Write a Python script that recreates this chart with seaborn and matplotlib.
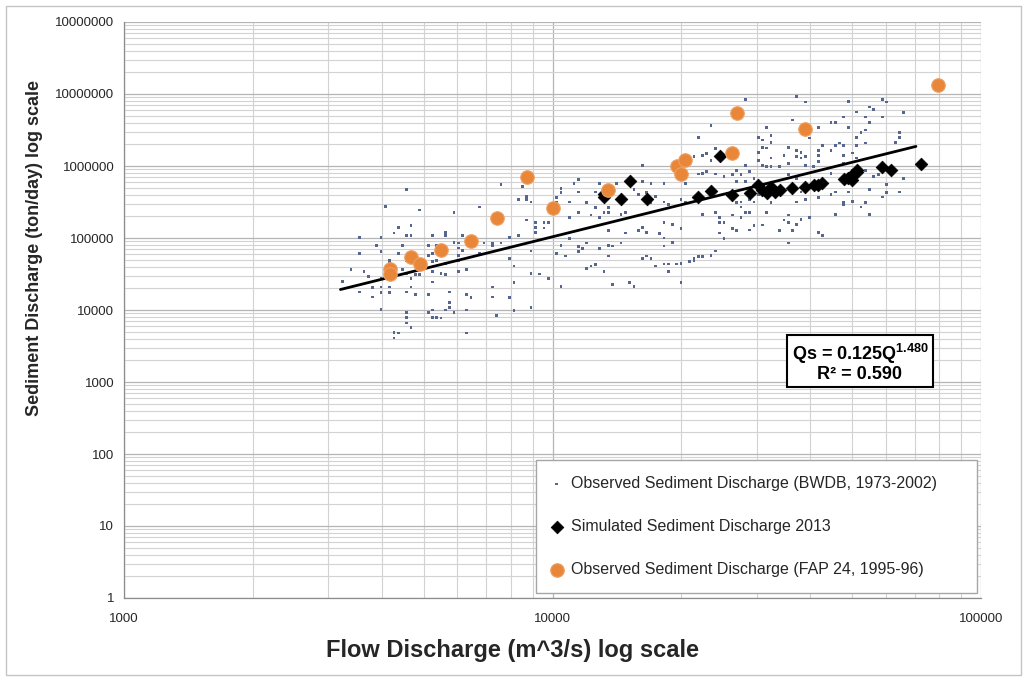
import numpy as np
import pandas as pd
import matplotlib
matplotlib.use("Agg")
import matplotlib.pyplot as plt
from matplotlib.ticker import FixedLocator, FixedFormatter, LogLocator, NullFormatter
from matplotlib.patches import Rectangle
import seaborn as sns

# ---------------------------------------------------------------------------
# Data: (log10 flow discharge [m^3/s], log10 sediment discharge [ton/day])
# ---------------------------------------------------------------------------
bwdb_log = [
    (3.88, 5.74), (3.93, 5.72), (3.66, 5.67), (3.94, 5.58), (3.94, 5.54), (3.92, 5.53),
    (3.61, 5.44), (3.83, 5.43), (3.69, 5.39),
    (4.37, 6.56), (4.34, 6.40), (4.33, 6.13), (4.35, 6.15), (4.36, 6.17), (4.37, 6.08),
    (4.38, 6.24), (4.21, 6.01), (4.34, 5.89), (4.35, 5.90), (4.36, 5.92), (4.38, 5.89),
    (4.40, 5.85), (4.06, 5.81), (4.05, 5.76), (4.11, 5.76), (4.15, 5.76), (4.21, 5.79),
    (4.23, 5.76), (4.26, 5.76), (4.31, 5.76), (4.02, 5.69), (4.02, 5.63), (4.06, 5.64),
    (4.10, 5.64), (4.13, 5.61), (4.19, 5.67), (4.22, 5.63), (4.20, 5.60), (4.24, 5.58),
    (4.01, 5.56), (4.01, 5.50), (4.04, 5.50), (4.08, 5.49), (3.95, 5.50), (4.23, 5.49),
    (4.26, 5.50), (4.27, 5.46), (4.30, 5.53), (4.31, 5.50), (4.13, 5.42), (4.10, 5.42),
    (4.45, 6.92), (4.57, 6.97), (4.59, 6.89), (4.69, 6.90), (4.77, 6.92), (4.78, 6.89),
    (4.74, 6.82), (4.71, 6.75), (4.75, 6.78), (4.68, 6.68), (4.73, 6.68), (4.82, 6.74),
    (4.77, 6.68), (4.56, 6.64), (4.65, 6.60), (4.66, 6.60), (4.74, 6.60), (4.50, 6.54),
    (4.62, 6.54), (4.69, 6.53), (4.73, 6.50), (4.72, 6.46), (4.81, 6.46), (4.71, 6.40),
    (4.51, 6.42), (4.48, 6.40), (4.81, 6.40), (4.49, 6.36), (4.51, 6.33), (4.60, 6.39),
    (4.63, 6.29), (4.67, 6.32), (4.68, 6.29), (4.49, 6.26), (4.50, 6.25), (4.55, 6.26),
    (4.66, 6.28), (4.71, 6.29), (4.73, 6.32), (4.80, 6.33), (4.57, 6.22), (4.58, 6.19),
    (4.62, 6.22), (4.65, 6.22), (4.48, 6.19), (4.54, 6.15), (4.57, 6.13), (4.58, 6.11),
    (4.59, 6.13), (4.62, 6.15), (4.68, 6.15), (4.70, 6.18), (4.71, 6.11), (4.48, 6.08),
    (4.51, 6.11), (4.49, 6.01), (4.50, 5.99), (4.51, 5.99), (4.53, 5.99), (4.55, 6.03),
    (4.59, 6.01), (4.61, 5.99), (4.62, 6.06), (4.68, 6.04), (4.45, 6.01), (4.43, 5.94),
    (4.46, 5.92), (4.42, 5.88), (4.44, 5.88), (4.47, 5.83), (4.45, 5.78), (4.43, 5.78),
    (4.55, 5.88), (4.57, 5.83), (4.65, 5.90), (4.73, 5.94), (4.75, 5.85), (4.76, 5.88),
    (4.82, 5.83), (4.78, 5.74), (4.81, 5.64), (4.78, 5.63), (4.74, 5.67), (4.69, 5.64),
    (4.66, 5.64), (4.65, 5.60), (4.58, 5.64), (4.54, 5.67), (4.48, 5.60), (4.46, 5.53),
    (4.44, 5.50), (4.47, 5.50), (4.51, 5.49), (4.57, 5.50), (4.59, 5.53), (4.62, 5.56),
    (4.68, 5.50), (4.68, 5.46), (4.70, 5.51), (4.72, 5.43), (4.73, 5.49), (4.77, 5.57),
    (4.44, 5.43), (4.43, 5.49),
    (3.77, 5.35), (3.94, 5.25), (3.64, 5.15), (3.67, 5.17), (3.63, 5.07), (3.66, 5.03),
    (3.67, 5.04), (3.60, 5.01), (3.55, 5.01), (3.72, 5.04), (3.75, 5.08), (3.75, 5.04),
    (3.79, 5.04), (3.77, 4.94), (3.78, 4.93), (3.84, 4.93), (3.86, 4.93), (3.86, 4.90),
    (3.88, 4.93), (3.90, 5.01), (3.92, 5.04), (3.59, 4.90), (3.65, 4.90), (3.71, 4.90),
    (3.73, 4.90), (3.78, 4.86), (3.79, 4.83), (3.55, 4.79), (3.60, 4.81), (3.64, 4.79),
    (3.71, 4.76), (3.72, 4.79), (3.73, 4.81), (3.78, 4.76), (3.83, 4.79), (3.90, 4.72),
    (3.62, 4.69), (3.62, 4.67), (3.66, 4.69), (3.72, 4.67), (3.73, 4.69), (3.75, 4.65),
    (3.78, 4.69), (3.91, 4.61), (3.53, 4.56), (3.56, 4.54), (3.57, 4.46), (3.63, 4.56),
    (3.65, 4.56), (3.66, 4.51), (3.72, 4.53), (3.74, 4.51), (3.75, 4.49), (3.78, 4.54),
    (3.80, 4.56), (3.60, 4.44), (3.62, 4.42), (3.67, 4.44), (3.68, 4.49), (3.69, 4.49),
    (3.51, 4.40), (3.58, 4.31), (3.60, 4.32), (3.62, 4.32), (3.67, 4.32), (3.55, 4.25),
    (3.60, 4.24), (3.62, 4.24), (3.66, 4.25), (3.72, 4.39), (3.86, 4.32), (3.91, 4.38),
    (3.58, 4.18), (3.68, 4.21), (3.71, 4.21), (3.76, 4.25), (3.80, 4.21), (3.81, 4.17),
    (3.86, 4.18), (3.90, 4.17), (3.76, 4.10), (3.76, 4.04), (3.60, 4.01), (3.75, 4.00),
    (3.72, 4.00), (3.77, 3.97), (3.80, 4.00), (3.91, 3.99), (3.66, 3.96), (3.71, 3.96),
    (3.72, 3.90), (3.73, 3.90), (3.74, 3.89), (3.87, 3.92), (3.66, 3.90), (3.66, 3.82),
    (3.67, 3.76), (3.63, 3.69), (3.64, 3.68), (3.63, 3.61), (3.80, 3.68),
    (4.01, 5.35), (4.04, 5.29), (4.06, 5.35), (4.09, 5.32), (4.11, 5.29), (4.12, 5.35),
    (4.13, 5.35), (4.16, 5.33), (4.17, 5.35), (3.96, 5.21), (3.96, 5.15), (3.98, 5.21),
    (3.99, 5.22), (3.96, 5.08), (3.96, 5.07), (3.98, 5.14), (4.13, 5.10), (4.17, 5.07),
    (4.20, 5.10), (4.21, 5.15), (4.22, 5.08), (4.26, 5.22), (4.28, 5.19), (4.30, 5.13),
    (4.25, 5.06), (4.26, 5.00), (4.28, 4.94), (4.04, 4.99), (4.02, 4.90), (4.08, 4.93),
    (4.06, 4.88), (4.07, 4.85), (4.06, 4.81), (4.11, 4.85), (4.13, 4.90), (4.14, 4.89),
    (4.16, 4.93), (4.26, 4.89), (3.95, 4.82), (4.01, 4.78), (4.03, 4.75), (4.13, 4.75),
    (4.21, 4.72), (4.22, 4.75), (4.23, 4.72), (4.24, 4.61), (4.26, 4.64), (4.27, 4.64),
    (4.29, 4.64), (4.30, 4.65), (4.32, 4.67), (4.33, 4.69), (4.33, 4.72), (4.34, 4.74),
    (4.35, 4.74), (4.37, 4.76), (4.38, 4.82), (4.35, 5.33), (4.38, 5.35), (4.39, 5.28),
    (4.39, 5.22), (4.40, 5.22), (4.39, 5.07), (4.40, 4.99), (4.08, 4.58), (4.09, 4.61),
    (4.10, 4.63), (4.12, 4.53), (4.27, 4.53), (3.95, 4.51), (3.97, 4.50), (3.99, 4.44),
    (4.02, 4.33), (4.14, 4.35), (4.18, 4.38), (4.19, 4.33), (4.30, 4.38), (3.95, 4.04),
    (4.42, 5.32), (4.44, 5.29), (4.45, 5.35), (4.46, 5.35), (4.50, 5.35), (4.55, 5.32),
    (4.54, 5.25), (4.58, 5.26), (4.60, 5.28), (4.66, 5.33), (4.74, 5.33), (4.47, 5.17),
    (4.49, 5.18), (4.55, 5.21), (4.57, 5.19), (4.42, 5.13), (4.43, 5.10), (4.46, 5.11),
    (4.53, 5.10), (4.56, 5.10), (4.62, 5.08), (4.63, 5.04), (4.55, 4.93),
]

simulated_log = [
    (4.12, 5.61), (4.12, 5.57), (4.16, 5.54), (4.18, 5.79), (4.22, 5.54), (4.34, 5.57),
    (4.37, 5.65), (4.39, 6.14), (4.42, 5.60), (4.46, 5.63), (4.48, 5.74), (4.49, 5.67),
    (4.50, 5.63), (4.51, 5.71), (4.52, 5.64), (4.53, 5.67), (4.56, 5.69), (4.59, 5.71),
    (4.61, 5.74), (4.62, 5.74), (4.63, 5.76), (4.68, 5.82), (4.69, 5.83), (4.70, 5.88),
    (4.70, 5.81), (4.71, 5.92), (4.71, 5.94), (4.77, 5.99), (4.79, 5.94), (4.86, 6.03),
]

fap_log = [
    (3.62, 4.57), (3.62, 4.50), (3.67, 4.74), (3.69, 4.64), (3.74, 4.83), (3.81, 4.96),
    (3.87, 5.28), (3.94, 5.85), (4.00, 5.42), (4.13, 5.67), (4.29, 6.00), (4.31, 6.08),
    (4.30, 5.89), (4.42, 6.18), (4.43, 6.74), (4.59, 6.51), (4.90, 7.13),
]

# Power-law fit Qs = a * Q^b, drawn over the observed flow range
fit_a = 0.125
fit_b = 1.480
fit_r2 = 0.590
fit_q_range = (3200, 70500)

x_ticks = [1000, 10000, 100000]
x_tick_labels = ["1000", "10000", "100000"]
y_ticks = [1, 10, 100, 1000, 10000, 100000, 1000000, 10000000, 100000000]
y_tick_labels = ["1", "10", "100", "1000", "10000", "100000", "1000000",
                 "10000000", "10000000"]

series_labels = [
    "Observed Sediment Discharge (BWDB, 1973-2002)",
    "Simulated Sediment Discharge 2013",
    "Observed Sediment Discharge (FAP 24, 1995-96)",
]


def to_frame(points):
    arr = np.array(points, dtype=float)
    return pd.DataFrame({"Q": 10 ** arr[:, 0], "Qs": 10 ** arr[:, 1]})


df_bwdb = to_frame(bwdb_log)
df_sim = to_frame(simulated_log)
df_fap = to_frame(fap_log)

q_fit = np.geomspace(fit_q_range[0], fit_q_range[1], 60)
df_fit = pd.DataFrame({"Q": q_fit, "Qs": fit_a * q_fit ** fit_b})

# ---------------------------------------------------------------------------
# Styling
# ---------------------------------------------------------------------------
sns.set_theme(style="white")
plt.rcParams["font.family"] = ["Liberation Sans", "DejaVu Sans"]
plt.rcParams["mathtext.fontset"] = "custom"
plt.rcParams["mathtext.rm"] = "Liberation Sans:bold"
plt.rcParams["mathtext.it"] = "Liberation Sans:bold"
plt.rcParams["mathtext.bf"] = "Liberation Sans:bold"

fig = plt.figure(figsize=(10.28, 6.77), dpi=100)
ax = fig.add_axes([124 / 1028, 1 - 598 / 677, 857 / 1028, 576 / 677])

ax.set_xscale("log")
ax.set_yscale("log")
ax.set_xlim(1000, 100000)
ax.set_ylim(1, 100000000)

ax.set_axisbelow(True)
ax.xaxis.set_minor_locator(LogLocator(base=10, subs=np.arange(2, 10)))
ax.yaxis.set_minor_locator(LogLocator(base=10, subs=np.arange(2, 10), numticks=20))
ax.xaxis.set_minor_formatter(NullFormatter())
ax.yaxis.set_minor_formatter(NullFormatter())
ax.grid(which="major", color="#b5b5b5", linewidth=0.9)
ax.grid(which="minor", color="#d2d2d2", linewidth=0.8)

sns.scatterplot(data=df_bwdb, x="Q", y="Qs", ax=ax, marker="s", s=4,
                color="#56668f", edgecolor="none", linewidth=0,
                label=series_labels[0], zorder=3)
sns.lineplot(data=df_fit, x="Q", y="Qs", ax=ax, color="black", linewidth=2.0,
             zorder=4, legend=False)
sns.scatterplot(data=df_sim, x="Q", y="Qs", ax=ax, marker="D", s=42,
                color="black", edgecolor="black", linewidth=0.5,
                label=series_labels[1], zorder=5)
sns.scatterplot(data=df_fap, x="Q", y="Qs", ax=ax, marker="o", s=95,
                color="#e8873a", edgecolor="#f0a060", linewidth=0.8,
                label=series_labels[2], zorder=6)

ax.xaxis.set_major_locator(FixedLocator(x_ticks))
ax.xaxis.set_major_formatter(FixedFormatter(x_tick_labels))
ax.yaxis.set_major_locator(FixedLocator(y_ticks))
ax.yaxis.set_major_formatter(FixedFormatter(y_tick_labels))
ax.tick_params(which="major", length=4, width=0.8, color="#8c8c8c",
               labelsize=9.5, labelcolor="#262626", pad=3)
ax.tick_params(axis="x", which="major", pad=7)
ax.tick_params(which="minor", length=0)

for side in ("top", "right"):
    ax.spines[side].set_visible(False)
for side in ("left", "bottom"):
    ax.spines[side].set_color("#8c8c8c")
    ax.spines[side].set_linewidth(0.9)

ax.set_xlabel("Flow Discharge (m^3/s) log scale", fontsize=17,
              fontweight="bold", color="#262626")
ax.xaxis.set_label_coords((512 - 124) / 857, (598 - 650) / 576)
ax.xaxis.label.set_va("center")
ax.set_ylabel("Sediment Discharge (ton/day) log scale", fontsize=13,
              fontweight="bold", color="#262626")
ax.yaxis.set_label_coords((35 - 124) / 857, (598 - 248) / 576)
ax.yaxis.label.set_va("center")

leg = ax.legend(loc="lower left", bbox_to_anchor=(0.4807, 0.0087, 0.5146, 0.23),
                mode="expand", frameon=True, fancybox=False, framealpha=1,
                edgecolor="#a6a6a6", fontsize=11.5, labelspacing=1.75,
                borderpad=1.0, handlelength=0.6, handletextpad=0.6,
                borderaxespad=0)
leg.get_frame().set_linewidth(1.0)
for t in leg.get_texts():
    t.set_color("#262626")

ax.text(0.8588, 0.4097,
        f"Qs = {fit_a:.3f}Q$^{{{fit_b:.3f}}}$\nR² = {fit_r2:.3f}",
        transform=ax.transAxes, ha="center", va="center",
        multialignment="center", fontsize=13, fontweight="bold",
        color="black", linespacing=1.0, zorder=7,
        bbox=dict(boxstyle="square,pad=0.25", facecolor="white",
                  edgecolor="black", linewidth=1.5))

# Outer chart frame
fig.patches.append(Rectangle((6 / 1028, 2 / 677), 1015 / 1028, 669 / 677,
                             transform=fig.transFigure, fill=False,
                             edgecolor="#c4c4c4", linewidth=1.0))

fig.savefig("out.png", dpi=100)
